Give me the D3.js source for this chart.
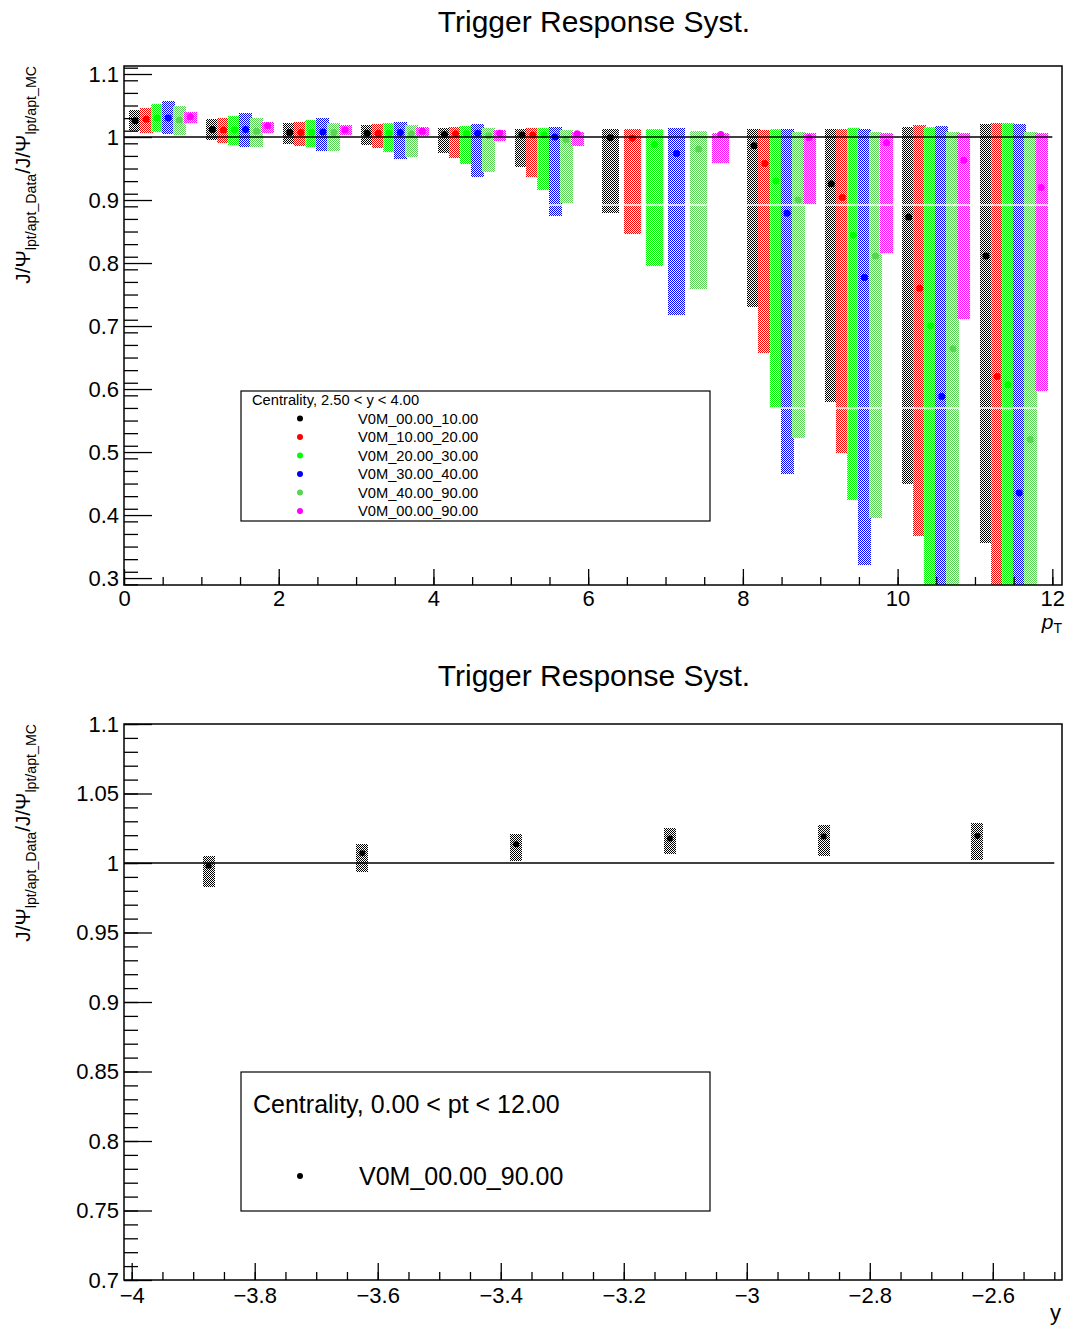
<!DOCTYPE html>
<html>
<head>
<meta charset="utf-8">
<script src="https://cdn.jsdelivr.net/npm/d3@7"></script>
<style>
  html, body { margin: 0; padding: 0; background: #fff; }
  svg { display: block; font-family: "Liberation Sans", Arial, sans-serif; }
</style>
</head>
<body>
<svg id="chart" width="1068" height="1327"></svg>
<script>
// ---------------- DATA ----------------
// pT bins (top panel)
const ptLow  = [0, 1, 2, 3, 4, 5, 6, 8, 9, 10, 11];
const ptHigh = [1, 2, 3, 4, 5, 6, 8, 9, 10, 11, 12];

const seriesNames = ["V0M_00.00_10.00", "V0M_10.00_20.00", "V0M_20.00_30.00",
                     "V0M_30.00_40.00", "V0M_40.00_90.00", "V0M_00.00_90.00"];
const seriesColors = ["#000000", "#ff0000", "#00ff00", "#0000ff", "#59d454", "#ff00ff"];

const cent0010Val = [1.026, 1.012, 1.007, 1.006, 1.004, 1.003, 0.999, 0.986, 0.926, 0.873, 0.811];
const cent0010Hi  = [1.043, 1.028, 1.023, 1.019, 1.015, 1.013, 1.013, 1.013, 1.013, 1.016, 1.021];
const cent0010Lo  = [1.010, 0.994, 0.990, 0.987, 0.975, 0.953, 0.880, 0.730, 0.579, 0.450, 0.356];

const cent1020Val = [1.028, 1.011, 1.007, 1.006, 1.005, 1.003, 0.998, 0.958, 0.904, 0.760, 0.620];
const cent1020Hi  = [1.046, 1.030, 1.024, 1.020, 1.016, 1.014, 1.013, 1.011, 1.013, 1.019, 1.022];
const cent1020Lo  = [1.007, 0.991, 0.986, 0.982, 0.967, 0.937, 0.847, 0.657, 0.499, 0.366, 0.230];

const cent2030Val = [1.030, 1.011, 1.007, 1.006, 1.005, 1.003, 0.988, 0.930, 0.844, 0.700, 0.607];
const cent2030Hi  = [1.052, 1.033, 1.027, 1.022, 1.017, 1.015, 1.013, 1.013, 1.015, 1.016, 1.022];
const cent2030Lo  = [1.007, 0.987, 0.984, 0.976, 0.957, 0.917, 0.796, 0.572, 0.424, 0.200, 0.200];

const cent3040Val = [1.030, 1.012, 1.008, 1.007, 1.006, 1.000, 0.974, 0.879, 0.777, 0.588, 0.435];
const cent3040Hi  = [1.057, 1.038, 1.030, 1.024, 1.021, 1.016, 1.015, 1.013, 1.013, 1.017, 1.021];
const cent3040Lo  = [1.004, 0.984, 0.977, 0.966, 0.937, 0.875, 0.719, 0.466, 0.321, 0.180, 0.150];

const cent4090Val = [1.027, 1.009, 1.007, 1.005, 1.002, 0.996, 0.981, 0.900, 0.811, 0.664, 0.520];
const cent4090Hi  = [1.049, 1.030, 1.022, 1.019, 1.014, 1.011, 1.010, 1.008, 1.008, 1.008, 1.008];
const cent4090Lo  = [1.003, 0.984, 0.977, 0.969, 0.944, 0.895, 0.760, 0.522, 0.395, 0.250, 0.200];

const cent0090Val = [1.032, 1.018, 1.011, 1.009, 1.006, 1.005, 1.004, 0.999, 0.991, 0.963, 0.920];
const cent0090Hi  = [1.040, 1.024, 1.019, 1.016, 1.011, 1.008, 1.007, 1.006, 1.006, 1.006, 1.006];
const cent0090Lo  = [1.023, 1.007, 1.003, 1.002, 0.994, 0.985, 0.959, 0.893, 0.815, 0.711, 0.596];

const topVals = [cent0010Val, cent1020Val, cent2030Val, cent3040Val, cent4090Val, cent0090Val];
const topHis  = [cent0010Hi,  cent1020Hi,  cent2030Hi,  cent3040Hi,  cent4090Hi,  cent0090Hi];
const topLos  = [cent0010Lo,  cent1020Lo,  cent2030Lo,  cent3040Lo,  cent4090Lo,  cent0090Lo];

// rapidity bins (bottom panel)
const yCenters = [-3.875, -3.625, -3.375, -3.125, -2.875, -2.625];
const yVal = [0.998, 1.007, 1.0135, 1.0177, 1.019, 1.0194];
const yHi  = [1.005, 1.014, 1.021, 1.025, 1.027, 1.0285];
const yLo  = [0.983, 0.994, 1.0016, 1.0065, 1.005, 1.0016];

// tick labels
const topXTicks = [0, 2, 4, 6, 8, 10, 12];
const topXLabels = ["0", "2", "4", "6", "8", "10", "12"];
const topYTicks = [0.3, 0.4, 0.5, 0.6, 0.7, 0.8, 0.9, 1.0, 1.1];
const topYLabels = ["0.3", "0.4", "0.5", "0.6", "0.7", "0.8", "0.9", "1", "1.1"];
const botXTicks = [-4, -3.8, -3.6, -3.4, -3.2, -3, -2.8, -2.6];
const botXLabels = ["\u22124", "\u22123.8", "\u22123.6", "\u22123.4", "\u22123.2", "\u22123", "\u22122.8", "\u22122.6"];
const botYTicks = [0.7, 0.75, 0.8, 0.85, 0.9, 0.95, 1.0, 1.05, 1.1];
const botYLabels = ["0.7", "0.75", "0.8", "0.85", "0.9", "0.95", "1", "1.05", "1.1"];

const titleText = "Trigger Response Syst.";
const topLegendHeader = "Centrality, 2.50 < y < 4.00";
const botLegendHeader = "Centrality, 0.00 < pt < 12.00";
const botLegendEntry = "V0M_00.00_90.00";

// ---------------- DRAW ----------------
const svg = d3.select("#chart");
const defs = svg.append("defs");
const FONT = '"Liberation Sans", Arial, sans-serif';

// checkerboard patterns (ROOT-like fill style)
seriesColors.forEach((c, i) => {
  const p = defs.append("pattern").attr("id", "pat" + i)
    .attr("width", 2).attr("height", 2).attr("patternUnits", "userSpaceOnUse");
  p.append("rect").attr("x", 0).attr("y", 0).attr("width", 1).attr("height", 1)
    .attr("fill", c).attr("shape-rendering", "crispEdges");
  p.append("rect").attr("x", 1).attr("y", 1).attr("width", 1).attr("height", 1)
    .attr("fill", c).attr("shape-rendering", "crispEdges");
});

function minorRange(start, stop, step) {
  const out = [];
  const n = Math.round((stop - start) / step);
  for (let i = 0; i <= n; i++) out.push(+(start + i * step).toFixed(6));
  return out;
}

function drawYTitle(g, xBase, yEnd) {
  const t = g.append("text")
    .attr("transform", `translate(${xBase},${yEnd}) rotate(-90)`)
    .attr("text-anchor", "end")
    .attr("font-size", 20.7);
  t.append("tspan").text("J/\u03A8");
  t.append("tspan").attr("font-size", 14.2).attr("dy", 5.5).text("lpt/apt_Data");
  t.append("tspan").attr("dy", -5.5).text("/J/\u03A8");
  t.append("tspan").attr("font-size", 14.2).attr("dy", 5.5).text("lpt/apt_MC");
}

function drawFrame(g, x0, y0, x1, y1) {
  g.append("rect").attr("x", x0).attr("y", y0).attr("width", x1 - x0).attr("height", y1 - y0)
    .attr("fill", "none").attr("stroke", "#000").attr("stroke-width", 1.5);
}

function styleAxis(sel, fs) {
  sel.select(".domain").remove();
  sel.selectAll(".tick line").attr("stroke", "#000").attr("stroke-width", 1.3);
  sel.selectAll(".tick text").attr("font-size", fs).attr("fill", "#000").attr("font-family", FONT);
}

// ===== TOP PANEL =====
const T = { x0: 124, x1: 1062, y0: 66, y1: 585 };
const xTop = d3.scaleLinear().domain([0, 12.125]).range([T.x0, T.x1]);
const yTop = d3.scaleLinear().domain([0.289, 1.1127]).range([T.y1, T.y0]);
const gTop = svg.append("g");

defs.append("clipPath").attr("id", "clipTop").append("rect")
  .attr("x", T.x0).attr("y", T.y0).attr("width", T.x1 - T.x0).attr("height", T.y1 - T.y0);

gTop.append("text").attr("x", 594).attr("y", 32).attr("text-anchor", "middle")
  .attr("font-size", 30).text(titleText);

// boxes + points per series
const dataLayer = gTop.append("g").attr("clip-path", "url(#clipTop)");
seriesColors.forEach((c, s) => {
  const rows = ptLow.map((lo, i) => {
    const w = ptHigh[i] - lo;
    return { x: lo + (s + 1) * w / 7, w: w, v: topVals[s][i], hi: topHis[s][i], lo: topLos[s][i] };
  });
  dataLayer.append("g").selectAll("rect").data(rows).join("rect")
    .attr("x", d => Math.round(xTop(d.x) - (9 + 4 * d.w) / 2))
    .attr("width", d => 9 + 4 * d.w)
    .attr("y", d => Math.round(yTop(d.hi)))
    .attr("height", d => Math.round(yTop(d.lo) - yTop(d.hi)))
    .attr("fill", `url(#pat${s})`)
    .attr("shape-rendering", "crispEdges");
  dataLayer.append("g").selectAll("circle").data(rows).join("circle")
    .attr("cx", d => xTop(d.x)).attr("cy", d => yTop(d.v)).attr("r", 3.5)
    .attr("fill", c);
});

// white rendering seams seen across the tall boxes in the reference
[205, 408].forEach(yy => {
  dataLayer.append("line").attr("x1", T.x0).attr("x2", T.x1).attr("y1", yy).attr("y2", yy)
    .attr("stroke", "#fff").attr("stroke-width", 1.5);
});

// line at 1
gTop.append("line").attr("x1", xTop(0)).attr("x2", xTop(12))
  .attr("y1", yTop(1)).attr("y2", yTop(1)).attr("stroke", "#000").attr("stroke-width", 1.5);

// axes
const topYMajor = d3.axisLeft(yTop).tickValues(topYTicks).tickSize(-28).tickPadding(5)
  .tickFormat((d, i) => topYLabels[i]);
const topYMinor = d3.axisLeft(yTop).tickValues(minorRange(0.29, 1.11, 0.02)).tickSize(-14).tickFormat("");
styleAxis(gTop.append("g").attr("transform", `translate(${T.x0},0)`).call(topYMinor), 22);
styleAxis(gTop.append("g").attr("transform", `translate(${T.x0},0)`).call(topYMajor), 22);

const topXMajor = d3.axisBottom(xTop).tickValues(topXTicks).tickSize(-16).tickPadding(5)
  .tickFormat((d, i) => topXLabels[i]);
const topXMinor = d3.axisBottom(xTop).tickValues(minorRange(0, 12, 0.5)).tickSize(-8).tickFormat("");
styleAxis(gTop.append("g").attr("transform", `translate(0,${T.y1})`).call(topXMinor), 22);
styleAxis(gTop.append("g").attr("transform", `translate(0,${T.y1})`).call(topXMajor), 22);

drawFrame(gTop, T.x0, T.y0, T.x1, T.y1);

// x title p_T
const pt = gTop.append("text").attr("x", 1062).attr("y", 629).attr("text-anchor", "end").attr("font-size", 21);
pt.append("tspan").attr("font-style", "italic").text("p");
pt.append("tspan").attr("font-size", 14).attr("dy", 4).text("T");

drawYTitle(gTop, 30, T.y0);

// legend
const LT = { x0: 241, y0: 391, x1: 710, y1: 521 };
gTop.append("rect").attr("x", LT.x0).attr("y", LT.y0).attr("width", LT.x1 - LT.x0).attr("height", LT.y1 - LT.y0)
  .attr("fill", "#fff").attr("stroke", "#000").attr("stroke-width", 1.2);
gTop.append("text").attr("x", 252).attr("y", 405).attr("font-size", 14.7).text(topLegendHeader);
seriesNames.forEach((n, i) => {
  const yy = 418.5 + i * 18.5;
  gTop.append("circle").attr("cx", 300).attr("cy", yy).attr("r", 3).attr("fill", seriesColors[i]);
  gTop.append("text").attr("x", 358).attr("y", yy).attr("dy", "0.36em").attr("font-size", 14.7).text(n);
});

// ===== BOTTOM PANEL =====
const B = { x0: 124, x1: 1062, y0: 724, y1: 1280 };
const xBot = d3.scaleLinear().domain([-4.0125, -2.4875]).range([B.x0, B.x1]);
const yBot = d3.scaleLinear().domain([0.7, 1.1]).range([B.y1, B.y0]);
const gBot = svg.append("g");

gBot.append("text").attr("x", 594).attr("y", 686).attr("text-anchor", "middle")
  .attr("font-size", 30).text(titleText);

const botRows = yCenters.map((c, i) => ({ x: c, v: yVal[i], hi: yHi[i], lo: yLo[i] }));
gBot.append("g").selectAll("rect").data(botRows).join("rect")
  .attr("x", d => Math.round(xBot(d.x) - 6)).attr("width", 12)
  .attr("y", d => Math.round(yBot(d.hi))).attr("height", d => Math.round(yBot(d.lo) - yBot(d.hi)))
  .attr("fill", "url(#pat0)").attr("shape-rendering", "crispEdges");

gBot.append("line").attr("x1", B.x0).attr("x2", xBot(-2.5))
  .attr("y1", yBot(1)).attr("y2", yBot(1)).attr("stroke", "#000").attr("stroke-width", 1.5);

gBot.append("g").selectAll("circle").data(botRows).join("circle")
  .attr("cx", d => xBot(d.x)).attr("cy", d => yBot(d.v)).attr("r", 3).attr("fill", "#000");

const botYMajor = d3.axisLeft(yBot).tickValues(botYTicks).tickSize(-28).tickPadding(5)
  .tickFormat((d, i) => botYLabels[i]);
const botYMinor = d3.axisLeft(yBot).tickValues(minorRange(0.7, 1.1, 0.01)).tickSize(-14).tickFormat("");
styleAxis(gBot.append("g").attr("transform", `translate(${B.x0},0)`).call(botYMinor), 22);
styleAxis(gBot.append("g").attr("transform", `translate(${B.x0},0)`).call(botYMajor), 22);

const botXMajor = d3.axisBottom(xBot).tickValues(botXTicks).tickSize(-17).tickPadding(7)
  .tickFormat((d, i) => botXLabels[i]);
const botXMinor = d3.axisBottom(xBot).tickValues(minorRange(-4, -2.5, 0.05)).tickSize(-8).tickFormat("");
styleAxis(gBot.append("g").attr("transform", `translate(0,${B.y1})`).call(botXMinor), 22);
styleAxis(gBot.append("g").attr("transform", `translate(0,${B.y1})`).call(botXMajor), 22);

drawFrame(gBot, B.x0, B.y0, B.x1, B.y1);

gBot.append("text").attr("x", 1061).attr("y", 1320).attr("text-anchor", "end").attr("font-size", 22).text("y");

drawYTitle(gBot, 30, B.y0);

const LB = { x0: 241, y0: 1072, x1: 710, y1: 1211 };
gBot.append("rect").attr("x", LB.x0).attr("y", LB.y0).attr("width", LB.x1 - LB.x0).attr("height", LB.y1 - LB.y0)
  .attr("fill", "#fff").attr("stroke", "#000").attr("stroke-width", 1.2);
gBot.append("text").attr("x", 253).attr("y", 1113).attr("font-size", 25).text(botLegendHeader);
gBot.append("circle").attr("cx", 300).attr("cy", 1176).attr("r", 3).attr("fill", "#000");
gBot.append("text").attr("x", 359).attr("y", 1176).attr("dy", "0.36em").attr("font-size", 25).text(botLegendEntry);
</script>
</body>
</html>
